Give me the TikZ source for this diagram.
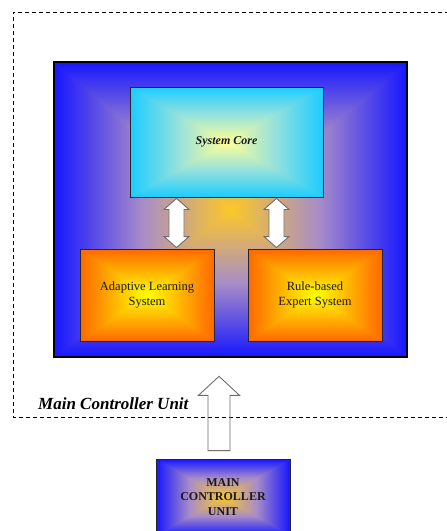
\documentclass[tikz,border=0pt]{standalone}
\usepackage{fontspec}
\setmainfont{Liberation Serif}
\usetikzlibrary{calc}

\definecolor{edgeblue}{RGB}{22,22,255}
\definecolor{midmauve}{RGB}{168,140,200}
\definecolor{coregold}{RGB}{252,200,40}
\definecolor{edgecyan}{RGB}{28,204,255}
\definecolor{midcyan}{RGB}{150,225,220}
\definecolor{paleyellow}{RGB}{255,255,150}
\definecolor{edgeorange}{RGB}{255,104,0}
\definecolor{midorange}{RGB}{255,180,0}
\definecolor{brightyellow}{RGB}{255,255,0}
\definecolor{arrowgray}{RGB}{110,110,110}

\tikzset{
  % rectangular gradient: #1 at the border, #2 half way, #3 at the centre
  rectgrad/.style n args={3}{path picture={
    \path (path picture bounding box.north west) coordinate (pnw)
          (path picture bounding box.north east) coordinate (pne)
          (path picture bounding box.south west) coordinate (psw)
          (path picture bounding box.south east) coordinate (pse)
          (path picture bounding box.center) coordinate (pc);
    \shade[left color=#1, right color=#3, middle color=#2]
      (pnw) rectangle (pc |- psw);
    \shade[left color=#3, right color=#1, middle color=#2]
      (pc |- pnw) rectangle (pse);
    \shade[top color=#1, bottom color=#3, middle color=#2]
      (pnw) -- (pne) -- (pc) -- cycle;
    \shade[top color=#3, bottom color=#1, middle color=#2]
      (psw) -- (pse) -- (pc) -- cycle;
  }},
  unitbox/.style={draw=black!85, line width=0.9pt, align=center,
    text=black!90, inner sep=0pt},
  outerbox/.style={draw=black, line width=2.6pt, inner sep=0pt,
    rectgrad={edgeblue}{midmauve}{coregold}},
  corebox/.style={unitbox, rectgrad={edgecyan}{midcyan}{paleyellow},
    font=\fontsize{12}{14}\selectfont\bfseries\itshape},
  subbox/.style={unitbox, rectgrad={edgeorange}{midorange}{brightyellow},
    font=\fontsize{12.5}{15}\selectfont},
  mcubox/.style={unitbox, rectgrad={edgeblue}{midmauve}{coregold},
    font=\fontsize{12}{14.5}\selectfont\bfseries},
  fatarrow/.style={draw=arrowgray, line width=0.9pt, fill=white,
    line join=miter},
  hollowarrow/.style={draw=arrowgray, line width=0.9pt, line join=miter},
  frame/.style={draw=black, line width=1pt, dash pattern=on 4pt off 3pt},
}

% vertical block arrow with heads at both ends, from #1 (top) to #2 (bottom)
\newcommand\fatdoublearrow[2]{%
  \draw[fatarrow] let \p1=(#1), \p2=(#2) in
    (\x1,\y1) -- (\x1+12.5pt,\y1-11pt) -- (\x1+7.5pt,\y1-11pt)
    -- (\x1+7.5pt,\y2+11pt) -- (\x1+12.5pt,\y2+11pt) -- (\x1,\y2)
    -- (\x1-12.5pt,\y2+11pt) -- (\x1-7.5pt,\y2+11pt)
    -- (\x1-7.5pt,\y1-11pt) -- (\x1-12.5pt,\y1-11pt) -- cycle;}

% upward block arrow, from #1 (tail) to #2 (tip)
\newcommand\hollowuparrow[2]{%
  \draw[hollowarrow] let \p1=(#1), \p2=(#2) in
    (\x2,\y2) -- (\x2+20.5pt,\y2-19pt) -- (\x2+11pt,\y2-19pt)
    -- (\x2+11pt,\y1) -- (\x2-11pt,\y1) -- (\x2-11pt,\y2-19pt)
    -- (\x2-20.5pt,\y2-19pt) -- cycle;}

\begin{document}
\begin{tikzpicture}[x=1pt, y=-1pt]
  \clip (0,0) rectangle (447,531);
  \fill[white] (0,0) rectangle (447,531);

  % dashed frame of the controller unit
  \draw[frame] (470,12) -- (13,12) -- (13,417) -- (470,417);

  % controller unit body
  \node[outerbox, minimum width=353pt, minimum height=295pt]
    (mcu) at (230.5,209.5) {};

  \node[corebox, minimum width=193pt, minimum height=110pt]
    (core) at (226.5,142) {System Core};

  \node[subbox, minimum width=134pt, minimum height=92pt]
    (adapt) at (147,295) {Adaptive Learning\\System};
  \node[subbox, minimum width=134pt, minimum height=92pt]
    (rules) at (315,295) {Rule-based\\Expert System};

  % links between the core and the two subsystems
  \coordinate (lx) at (176.5,0);
  \coordinate (rx) at (276.5,0);
  \coordinate (ltop) at ($(core.south -| lx)+(0,1)$);
  \coordinate (lbot) at ($(adapt.north -| lx)+(0,-1)$);
  \coordinate (rtop) at ($(core.south -| rx)+(0,1)$);
  \coordinate (rbot) at ($(rules.north -| rx)+(0,-1)$);
  \fatdoublearrow{ltop}{lbot}
  \fatdoublearrow{rtop}{rbot}

  \node[font=\fontsize{17}{20}\selectfont\bfseries\itshape, anchor=base west,
    inner sep=0pt] (label) at (38,409) {Main Controller Unit};

  % separate main controller unit below the frame
  \node[mcubox, minimum width=134pt, minimum height=76pt]
    (unit) at (223,497) {MAIN\\CONTROLLER\\UNIT};

  \coordinate (ax) at (219,0);
  \coordinate (atail) at ($(unit.north -| ax)+(0,-8)$);
  \coordinate (atip) at ($(mcu.south -| ax)+(0,18)$);
  \hollowuparrow{atail}{atip}
\end{tikzpicture}
\end{document}
